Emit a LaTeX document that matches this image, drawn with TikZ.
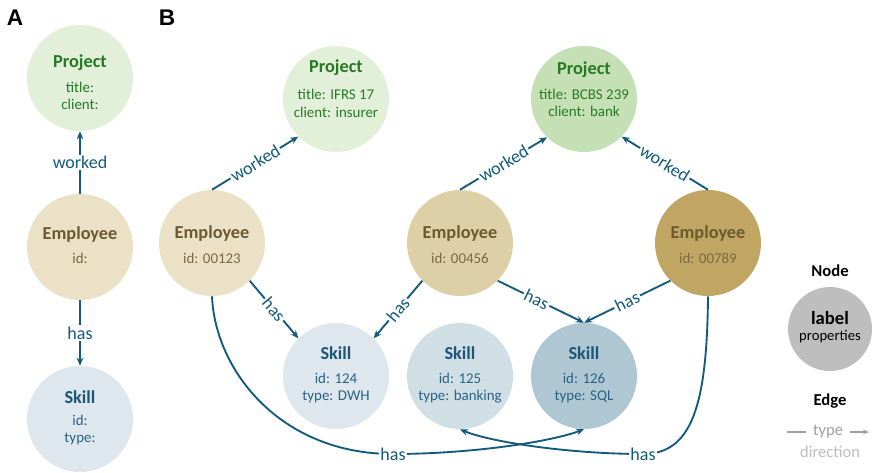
\documentclass[tikz,border=0pt]{standalone}
\usepackage{fontspec}
\setmainfont{Carlito}
\newfontfamily\panelfont{Liberation Sans}
\usetikzlibrary{arrows.meta}

% node fills and text colours
\definecolor{projL}{HTML}{E2F0D9}
\definecolor{projM}{HTML}{C5E0B4}
\definecolor{projT}{HTML}{267A24}
\definecolor{empL}{HTML}{EBE1C7}
\definecolor{empM}{HTML}{DDD0A6}
\definecolor{empD}{HTML}{C0A662}
\definecolor{empT}{HTML}{6A5A30}
\definecolor{empP}{HTML}{7A6944}
\definecolor{skL}{HTML}{DEE7ED}
\definecolor{skM}{HTML}{D0DEE5}
\definecolor{skD}{HTML}{AFC7D3}
\definecolor{skT}{HTML}{1D5677}
\definecolor{skP}{HTML}{2A6384}
\definecolor{edgeblue}{HTML}{135A7B}
\definecolor{lgfill}{HTML}{BEBEBE}
\definecolor{lgline}{HTML}{A0A0A0}
\definecolor{lgdir}{HTML}{BDBDBD}

\begin{document}
\begin{tikzpicture}[x=0.75pt,y=-0.75pt,
  circ/.style={circle, minimum size=79.5pt, inner sep=0pt, draw=none},
  ttl/.style={font=\fontsize{13.7}{16}\selectfont\bfseries, inner sep=0pt},
  prop/.style={font=\fontsize{11.2}{13.3}\selectfont, align=center, inner sep=0pt},
  rel/.style={draw=edgeblue, line width=1.4pt, -{Stealth[length=6pt,width=5pt]}},
  elab/.style={font=\fontsize{13.5}{16}\selectfont, text=edgeblue, fill=white, inner sep=1.2pt},
  panel/.style={font=\panelfont\fontsize{17}{20}\selectfont\bfseries, inner sep=0pt},
  hdr/.style={font=\fontsize{12.5}{15}\selectfont\bfseries, inner sep=0pt}
]
\useasboundingbox (0,0) rectangle (878,472);

% panel letters
\node[panel] (lblA) at (15,18) {A};
\node[panel] (lblB) at (167,18) {B};

% ---------- schema (A) ----------
\node[circ, fill=projL] (pA) at (80,78) {};
\node[ttl, text=projT] (pA-t) at (80,63) {Project};
\node[prop, text=projT] (pA-p) at (80,96) {title:\\client:};

\node[circ, fill=empL] (eA) at (80,247) {};
\node[ttl, text=empT] (eA-t) at (80,235) {Employee};
\node[prop, text=empP] (eA-p) at (80,258) {id:};

\node[circ, fill=skL] (sA) at (80,419) {};
\node[ttl, text=skT] (sA-t) at (80,397) {Skill};
\node[prop, text=skP] (sA-p) at (80,430) {id:\\type:};

\draw[rel] (eA.north) -- node[elab] {worked} (pA.south);
\draw[rel] (eA.south) -- node[elab] {has} (sA.north);

% ---------- instances (B) ----------
\node[circ, fill=projL] (p1) at (336,99) {};
\node[ttl, text=projT] (p1-t) at (336,68) {Project};
\node[prop, text=projT] (p1-p) at (336,103.5) {title: IFRS 17\\client: insurer};

\node[circ, fill=projM] (p2) at (584,99) {};
\node[ttl, text=projT] (p2-t) at (584,70) {Project};
\node[prop, text=projT] (p2-p) at (584,103) {title: BCBS 239\\client: bank};

\node[circ, fill=empL] (e1) at (212,243) {};
\node[ttl, text=empT] (e1-t) at (212,234) {Employee};
\node[prop, text=empP] (e1-p) at (212,258) {id: 00123};

\node[circ, fill=empM] (e2) at (460,243) {};
\node[ttl, text=empT] (e2-t) at (460,234) {Employee};
\node[prop, text=empP] (e2-p) at (460,258) {id: 00456};

\node[circ, fill=empD] (e3) at (708,243) {};
\node[ttl, text=empT] (e3-t) at (708,234) {Employee};
\node[prop, text=empP] (e3-p) at (708,258) {id: 00789};

\node[circ, fill=skL] (s124) at (336,376) {};
\node[ttl, text=skT] (s124-t) at (336,353) {Skill};
\node[prop, text=skP] (s124-p) at (336,388) {id: 124\\type: DWH};

\node[circ, fill=skM] (s125) at (460,376) {};
\node[ttl, text=skT] (s125-t) at (460,353) {Skill};
\node[prop, text=skP] (s125-p) at (460,388) {id: 125\\type: banking};

\node[circ, fill=skD] (s126) at (584,376) {};
\node[ttl, text=skT] (s126-t) at (584,353) {Skill};
\node[prop, text=skP] (s126-p) at (584,388) {id: 126\\type: SQL};

% worked edges
\draw[rel] (e1.north) -- node[elab, sloped] {worked} (p1.225);
\draw[rel] (e2.north) -- node[elab, sloped] {worked} (p2.226);
\draw[rel] (e3.north) -- node[elab, sloped] {worked} (p2.-45);

% has edges
\draw[rel] (e1.-45) -- node[elab, sloped] {has} (s124.135);
\draw[rel] (e2.225) -- node[elab, sloped] {has} (s124.45);
\draw[rel] (e2.-45) -- node[elab, sloped, pos=0.45] {has} (s126.north);
\draw[rel] (e3.225) -- node[elab, sloped] {has} (s126.north);

% long curved has edges below the skills
\draw[rel] (e1.south) .. controls (215,370) and (280,454) .. (393,454)
  node[elab] {has}
  .. controls (470,454) and (550,442) .. (s126.south);
\draw[rel] (e3.south) .. controls (707,405) and (692,454) .. (643,454)
  node[elab] {has}
  .. controls (570,454) and (490,442) .. (s125.south);

% ---------- legend ----------
\node[hdr] (lg-nodehdr) at (830,271) {Node};
\node[circ, minimum size=63pt, fill=lgfill] (lg) at (830,329) {};
\node[font=\fontsize{14}{16}\selectfont\bfseries, inner sep=0pt] (lg-t) at (830,318) {label};
\node[font=\fontsize{11}{13}\selectfont, inner sep=0pt] (lg-p) at (830,337) {properties};

\node[hdr] (lg-edgehdr) at (830,401) {Edge};
\coordinate (lg-a) at (787,432);
\coordinate (lg-b) at (869,432);
\draw[draw=lgline, line width=0.9pt, -{Stealth[length=4.5pt,width=3.5pt]}] (lg-a) --
  node[fill=white, text=lgline, inner xsep=5pt, inner ysep=1pt,
       font=\fontsize{12.4}{15}\selectfont] {type} (lg-b);
\node[font=\fontsize{12.4}{15}\selectfont, text=lgdir, inner sep=0pt] (lg-dir) at (830,452) {direction};
\end{tikzpicture}
\end{document}
